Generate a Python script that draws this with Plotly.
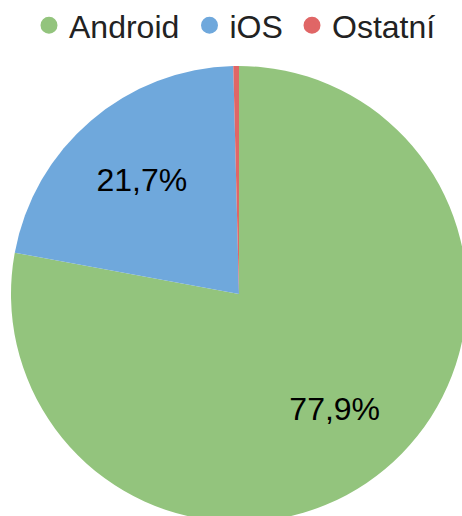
import plotly.graph_objects as go

labels = ["Android", "iOS", "Ostatní"]
values = [77.9, 21.7, 0.4]
text_labels = ["77,9%", "21,7%", ""]
colors = ["#93C47D", "#6FA8DC", "#E06666"]

# figure slightly larger than the 462x516 window (pie is cropped at right/bottom)
FW, FH = 470, 524
FONT = "Liberation Sans, Arial, sans-serif"

pie_domain = dict(x=[11 / FW, 467 / FW], y=[2 / FH, 458 / FH])

fig = go.Figure()
# coloured slices
fig.add_trace(go.Pie(
    labels=labels, values=values, sort=False, direction="clockwise", rotation=0,
    marker=dict(colors=colors, line=dict(width=0)),
    textinfo="none", showlegend=False, hoverinfo="label+percent",
    domain=pie_domain,
))
# transparent ring carrying the percentage labels (places them at ~2/3 radius)
fig.add_trace(go.Pie(
    labels=labels, values=values, sort=False, direction="clockwise", rotation=0,
    hole=0.312,
    marker=dict(colors=["rgba(0,0,0,0)"] * 3, line=dict(width=0)),
    text=text_labels, textinfo="text", textposition="inside",
    insidetextorientation="horizontal",
    textfont=dict(family=FONT, size=32, color="#000000"),
    showlegend=False, hoverinfo="skip",
    domain=pie_domain,
))

legend_names = ["legend", "legend2", "legend3"]
legend_left_px = [29, 189.5, 292]

for lab, col, lg in zip(labels, colors, legend_names):
    fig.add_trace(go.Scatter(
        x=[None], y=[None], mode="markers", name=lab,
        marker=dict(color=col, size=12, symbol="circle", line=dict(color=col, width=5)),
        showlegend=True, hoverinfo="skip", legend=lg,
    ))

legend_style = dict(
    orientation="h", xanchor="left", y=1.004, yanchor="top",
    font=dict(family=FONT, size=32, color="#222222"),
    itemsizing="trace", bgcolor="rgba(0,0,0,0)", borderwidth=0,
)

fig.update_layout(
    width=FW, height=FH,
    margin=dict(l=0, r=0, t=0, b=0, autoexpand=False),
    paper_bgcolor="white",
    plot_bgcolor="white",
    xaxis=dict(visible=False),
    yaxis=dict(visible=False),
    legend=dict(x=legend_left_px[0] / FW, **legend_style),
    legend2=dict(x=legend_left_px[1] / FW, **legend_style),
    legend3=dict(x=legend_left_px[2] / FW, **legend_style),
)

fig.write_html(
    "out.html",
    config={"displayModeBar": False},
    post_script="document.documentElement.style.overflow='hidden';"
                "document.body.style.margin='0';document.body.style.overflow='hidden';",
)
